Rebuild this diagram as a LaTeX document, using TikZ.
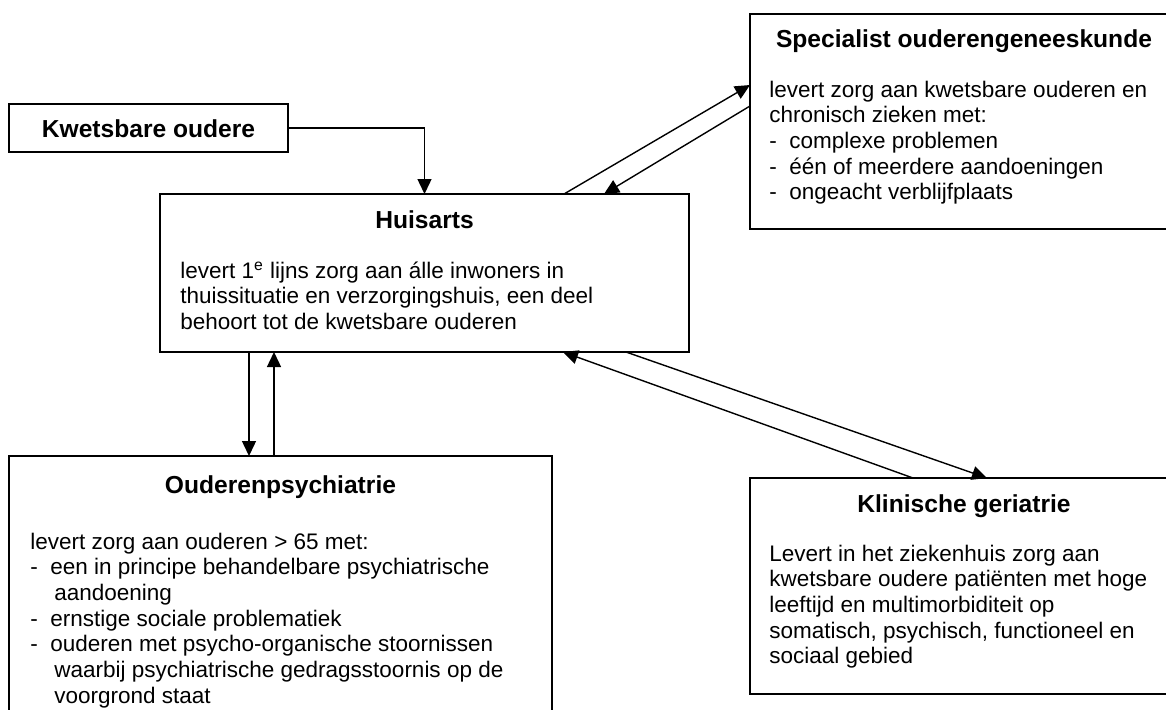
\documentclass[tikz,border=0pt]{standalone}
\usepackage{fontspec}
\setmainfont{Liberation Sans}
\usetikzlibrary{arrows.meta,calc}
\newcommand{\mybody}{\fontsize{11.25}{12.85}\selectfont}
\newcommand{\myhead}{\fontsize{12.3}{14}\selectfont\bfseries}
\newcommand{\mydash}[1]{\makebox[10pt][l]{-}#1}
\newcommand{\mycont}[1]{\hspace*{12pt}#1}
\begin{document}
\begin{tikzpicture}[x=0.5pt,y=-0.5pt,
  box/.style={draw,line width=0.55pt,inner sep=0pt,outer sep=0pt},
  head/.style={anchor=base,inner sep=0pt,font=\myhead},
  body/.style={anchor=base west,inner sep=0pt,font=\mybody},
  arr/.style={line width=0.7pt,-{Triangle[length=7.5pt,width=7pt]}}]
\useasboundingbox (0,0) rectangle (1166,709);
\clip (0,0) rectangle (1166,709);
% boxes
\node[box,minimum width=139.5pt,minimum height=24pt] (kw) at (148.5,128) {};
\node[box,minimum width=264.5pt,minimum height=79pt] (hu) at (424.5,273) {};
\node[box,minimum width=214pt,minimum height=107.5pt] (sp) at (964,121.5) {};
\node[box,minimum width=271.5pt,minimum height=142pt] (op) at (280.5,598) {};
\node[box,minimum width=214pt,minimum height=108pt] (kg) at (964,586) {};
% texts
\node[head] (kwt) at (148.5,137) {Kwetsbare oudere};
\node[head] (hut) at (424.5,228) {Huisarts};
\node[body] (hub) at (180,278) {\begin{tabular}[t]{@{}l@{}}levert 1\textsuperscript{e} lijns zorg aan álle inwoners in\\ thuissituatie en verzorgingshuis, een deel\\ behoort tot de kwetsbare ouderen\end{tabular}};
\node[head] (spt) at (964,47) {Specialist ouderengeneeskunde};
\node[body] (spb) at (769,97) {\begin{tabular}[t]{@{}l@{}}levert zorg aan kwetsbare ouderen en\\ chronisch zieken met:\\ \mydash{complexe problemen}\\ \mydash{één of meerdere aandoeningen}\\ \mydash{ongeacht verblijfplaats}\end{tabular}};
\node[head] (opt) at (280.5,493) {Ouderenpsychiatrie};
\node[body] (opb) at (30,549) {\begin{tabular}[t]{@{}l@{}}levert zorg aan ouderen > 65 met:\\ \mydash{een in principe behandelbare psychiatrische}\\ \mycont{aandoening}\\ \mydash{ernstige sociale problematiek}\\ \mydash{ouderen met psycho-organische stoornissen}\\ \mycont{waarbij psychiatrische gedragsstoornis op de}\\ \mycont{voorgrond staat}\end{tabular}};
\node[head] (kgt) at (964,512) {Klinische geriatrie};
\node[body] (kgb) at (769,561) {\begin{tabular}[t]{@{}l@{}}Levert in het ziekenhuis zorg aan\\ kwetsbare oudere patiënten met hoge\\ leeftijd en multimorbiditeit op\\ somatisch, psychisch, functioneel en\\ sociaal gebied\end{tabular}};
% connectors
\draw[arr] (kw.east) -| (hu.north);
\draw[arr] ($(hu.north west)+(404,0)$) -- ($(sp.north west)+(0,71)$);
\draw[arr] ($(sp.north west)+(0,92)$) -- ($(hu.north west)+(444,0)$);
\draw[arr] ($(hu.south west)+(89,0)$) -- ($(op.north west)+(240,0)$);
\draw[arr] ($(op.north west)+(265,0)$) -- ($(hu.south west)+(114,0)$);
\draw[arr] ($(hu.south west)+(466,0)$) -- ($(kg.north west)+(237,0)$);
\draw[arr] ($(kg.north west)+(163,0)$) -- ($(hu.south west)+(403,0)$);
\end{tikzpicture}
\end{document}
